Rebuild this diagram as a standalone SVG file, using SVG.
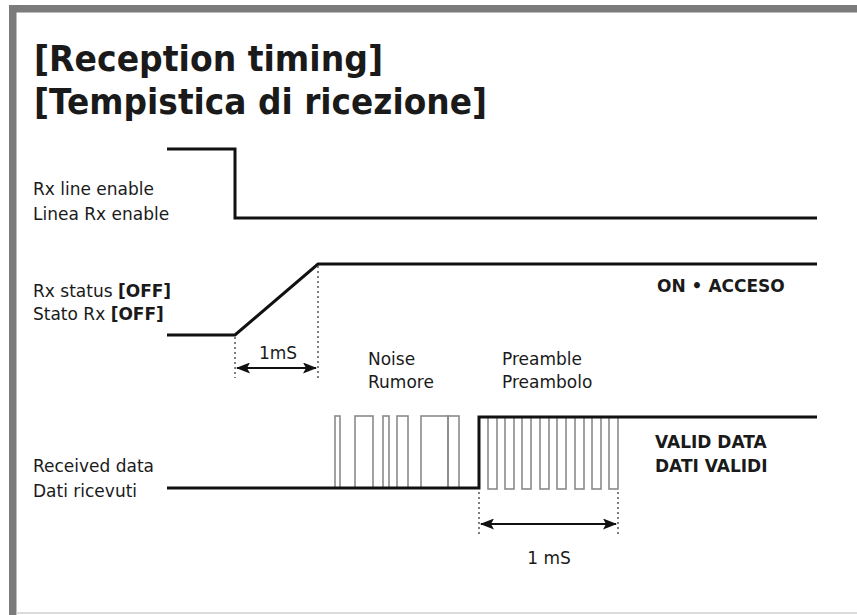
<svg xmlns="http://www.w3.org/2000/svg" width="857" height="615" viewBox="0 0 857 615">
<defs>
<style>
.t{font-family:"DejaVu Sans","Noto Sans",sans-serif;fill:#1a1a1a}
.title{font-size:36px;font-weight:bold}
.lab{font-size:17px}
.b{font-weight:bold}
.sig{fill:none;stroke:#111;stroke-width:3;stroke-linejoin:miter}
.pulse{fill:none;stroke:#8a8a8a;stroke-width:1.6}
.dot{stroke:#555;stroke-width:1.5;stroke-dasharray:2 3}
.arr{stroke:#111;stroke-width:2;marker-start:url(#ah);marker-end:url(#ah)}
</style>
<marker id="ah" viewBox="0 0 14 11" refX="13" refY="5.5" markerWidth="14" markerHeight="11" markerUnits="userSpaceOnUse" orient="auto-start-reverse">
<path d="M0,0 L14,5.5 L0,11 L3,5.5 Z" fill="#111"/>
</marker>
</defs>
<rect width="857" height="615" fill="#fff"/>
<g id="frame">
<rect x="9" y="5" width="848" height="7.5" fill="#7b7b7b"/>
<rect x="9" y="5" width="7.5" height="610" fill="#7b7b7b"/>
<line x1="16" y1="613" x2="857" y2="613" stroke="#cfcfcf" stroke-width="1.5"/>
</g>
<g id="title">
<text class="t title" x="34" y="71" textLength="349" lengthAdjust="spacingAndGlyphs">[Reception timing]</text>
<text class="t title" x="34" y="114" textLength="453" lengthAdjust="spacingAndGlyphs">[Tempistica di ricezione]</text>
</g>
<g id="labels">
<text class="t lab" x="33" y="195">Rx line enable</text>
<text class="t lab" x="33" y="220">Linea Rx enable</text>
<text class="t lab" x="33" y="297">Rx status <tspan class="b">[OFF]</tspan></text>
<text class="t lab" x="33" y="320">Stato Rx <tspan class="b">[OFF]</tspan></text>
<text class="t lab" x="33" y="472">Received data</text>
<text class="t lab" x="33" y="497">Dati ricevuti</text>
<text class="t lab" x="368" y="365">Noise</text>
<text class="t lab" x="368" y="388">Rumore</text>
<text class="t lab" x="502" y="365">Preamble</text>
<text class="t lab" x="502" y="388">Preambolo</text>
<text class="t lab" x="278" y="359" text-anchor="middle">1mS</text>
<text class="t lab" x="549" y="564" text-anchor="middle">1 mS</text>
<text class="t lab b" x="657" y="292">ON • ACCESO</text>
<text class="t lab b" x="655" y="448">VALID DATA</text>
<text class="t lab b" x="655" y="472">DATI VALIDI</text>
</g>
<g id="pulses">
<rect class="pulse" x="335" y="416" width="5" height="72"/>
<rect class="pulse" x="355" y="416" width="18" height="72"/>
<rect class="pulse" x="383" y="416" width="6" height="72"/>
<rect class="pulse" x="397" y="416" width="11" height="72"/>
<rect class="pulse" x="421" y="416" width="27" height="72"/>
<rect class="pulse" x="448" y="416" width="11" height="72"/>
<rect class="pulse" x="488" y="417" width="9" height="72"/>
<rect class="pulse" x="505" y="417" width="9" height="72"/>
<rect class="pulse" x="522" y="417" width="9" height="72"/>
<rect class="pulse" x="540" y="417" width="9" height="72"/>
<rect class="pulse" x="557" y="417" width="9" height="72"/>
<rect class="pulse" x="575" y="417" width="9" height="72"/>
<rect class="pulse" x="592" y="417" width="9" height="72"/>
<rect class="pulse" x="609" y="417" width="9" height="72"/>
</g>
<g id="connectors">
<polyline class="sig" points="167,149 235,149 235,218 817,218"/>
<polyline class="sig" points="167,335 235,335 318,264 817,264"/>
<polyline class="sig" points="167,488 479,488 479,417 817,417"/>
<line class="dot" x1="235" y1="337" x2="235" y2="378"/>
<line class="dot" x1="318" y1="266" x2="318" y2="378"/>
<line class="arr" x1="237" y1="368" x2="316" y2="368"/>
<line class="dot" x1="479" y1="492" x2="479" y2="535"/>
<line class="dot" x1="618" y1="492" x2="618" y2="535"/>
<line class="arr" x1="481" y1="524" x2="616" y2="524"/>
</g>
</svg>
